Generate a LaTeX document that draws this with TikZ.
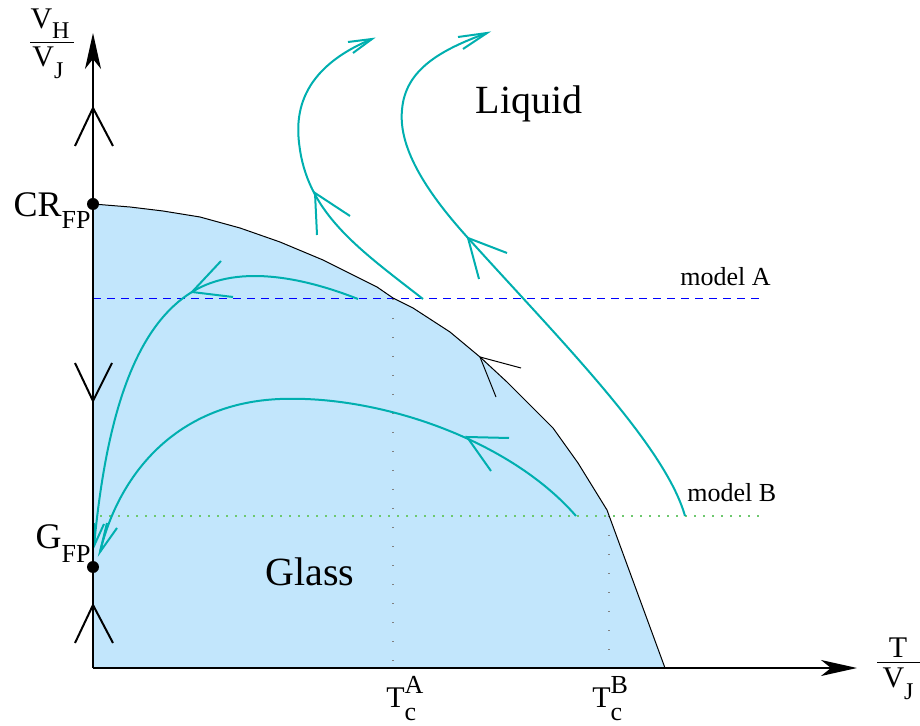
\documentclass[tikz,border=0pt]{standalone}
\usepackage{fontspec}
\setmainfont{Liberation Serif}
\usetikzlibrary{arrows.meta}
\definecolor{glassblue}{RGB}{194,230,252}
\definecolor{flowteal}{RGB}{0,175,175}
\definecolor{dotgreen}{RGB}{110,200,110}

\begin{document}
\begin{tikzpicture}[x=0.5pt, y=-0.5pt,
    flow/.style={flowteal, line width=1pt},
    axis/.style={line width=1pt, -{Stealth[length=18pt, width=8pt, inset=5pt]}},
    barb/.style={line width=1pt},
    big/.style={font=\fontsize{20}{24}\selectfont, inner sep=0pt},
    small/.style={font=\fontsize{13}{15}\selectfont, inner sep=0pt},
    mid/.style={font=\fontsize{15}{17}\selectfont, inner sep=0pt}]
    \useasboundingbox (0,0) rectangle (920,726);
    % glass phase
    \fill[glassblue] (93,204) -- (130,207) -- (163,211) -- (200,217) -- (240,228) -- (280,242)
        -- (323,260) -- (377,287) -- (393,298) -- (413,308) -- (450,332) -- (480,357)
        -- (507,382) -- (553,428) -- (578,463) -- (607,510) -- (618,540) -- (665,668)
        -- (93,668) -- cycle;
    % model lines
    \draw[blue, line width=0.5pt, dash pattern=on 4pt off 3pt] (93,299) -- (763,299);
    \draw[dotgreen, line width=1pt, dash pattern=on 0.8pt off 3.7pt] (100,516) -- (765,516);
    \draw[gray, line width=0.6pt, dash pattern=on 0.6pt off 8.9pt] (393,299) -- (393,668);
    \draw[gray, line width=0.6pt, dash pattern=on 0.6pt off 8.9pt] (609,516) -- (609,668);
    % boundary
    \draw[line width=0.5pt] (93,204) -- (130,207) -- (163,211) -- (200,217) -- (240,228) -- (280,242)
        -- (323,260) -- (377,287) -- (393,298) -- (413,308) -- (450,332) -- (480,357)
        -- (507,382) -- (553,428) -- (578,463) -- (607,510) -- (618,540) -- (665,668);
    \draw[line width=0.5pt] (521,368) -- (480,357) -- (496,397);
    % flows into the liquid
    \draw[flow] (423,299) .. controls (360,250) and (310,215) .. (300,150)
        .. controls (296,124) and (292,72) .. (372,39);
    \draw[flow] (317,235) -- (315,193) -- (350,216);
    \draw[flow] (348,42) -- (372,39) -- (353,53);
    \draw[flow] (685,516) .. controls (665,445) and (560,340) .. (468,238)
        .. controls (430,196) and (398,150) .. (402,110)
        .. controls (405,70) and (440,50) .. (487,33);
    \draw[flow] (507,253) -- (468,238) -- (479,279);
    \draw[flow] (458,37) -- (487,33) -- (463,49);
    % flows into the glass
    \draw[flow] (358,299) .. controls (310,280) and (240,262) .. (192,292)
        .. controls (130,330) and (105,430) .. (94,546);
    \draw[flow] (221,261) -- (192,292) -- (233,297);
    \draw[flow] (94,523) -- (94,546) -- (104,524);
    \draw[flow] (576,516) .. controls (510,440) and (380,395) .. (280,399)
        .. controls (180,403) and (120,470) .. (100,552);
    \draw[flow] (509,438) -- (467,437) -- (491,471);
    \draw[flow] (107,523) -- (100,552) -- (117,528);
    % axes
    \draw[axis] (93,668) -- (93,33);
    \draw[axis] (93,668) -- (857,668);
    \draw[barb] (75,146) -- (93,108) -- (113,146);
    \draw[barb] (75,363) -- (93,401) -- (112,363);
    \draw[barb] (75,643) -- (93,605) -- (113,643);
    \fill (93,204) circle (6);
    \fill (93,567) circle (6);
    % labels
    \node[big, anchor=base] (liquid) at (529,114) {Liquid};
    \node[big, anchor=base] (glass) at (310,585) {Glass};
    \node[small, anchor=base west] (modelA) at (680,286) {model A};
    \node[small, anchor=base west] (modelB) at (687,502) {model B};
    \node[font=\fontsize{18}{20}\selectfont, inner sep=0pt, anchor=base east] (crfp) at (91,217)
        {CR\raisebox{-6pt}{\fontsize{13}{15}\selectfont FP}};
    \node[font=\fontsize{18}{20}\selectfont, inner sep=0pt, anchor=base east] (gfp) at (91,548)
        {G\raisebox{-7pt}{\fontsize{13}{15}\selectfont FP}};
    \node[mid, anchor=base west] (tca) at (386,707)
        {T\rlap{\raisebox{7pt}{\fontsize{13}{15}\selectfont A}}\raisebox{-6.5pt}{\fontsize{13}{15}\selectfont c}};
    \node[mid, anchor=base west] (tcb) at (592,707)
        {T\rlap{\raisebox{7pt}{\fontsize{13}{15}\selectfont B}}\raisebox{-6.5pt}{\fontsize{13}{15}\selectfont c}};
    % axis labels
    \node[mid, anchor=base] (vh) at (50,29) {V\raisebox{-5pt}{\fontsize{12}{14}\selectfont H}};
    \node[mid, anchor=base] (vj) at (48,67) {V\raisebox{-6pt}{\fontsize{12}{14}\selectfont J}};
    \draw[line width=0.5pt] (30,43) -- (74,43);
    \node[mid, anchor=base] (tt) at (898,657) {T};
    \node[mid, anchor=base] (tvj) at (898,687) {V\raisebox{-6pt}{\fontsize{12}{14}\selectfont J}};
    \draw[line width=0.5pt] (877,662) -- (920,662);
\end{tikzpicture}
\end{document}
